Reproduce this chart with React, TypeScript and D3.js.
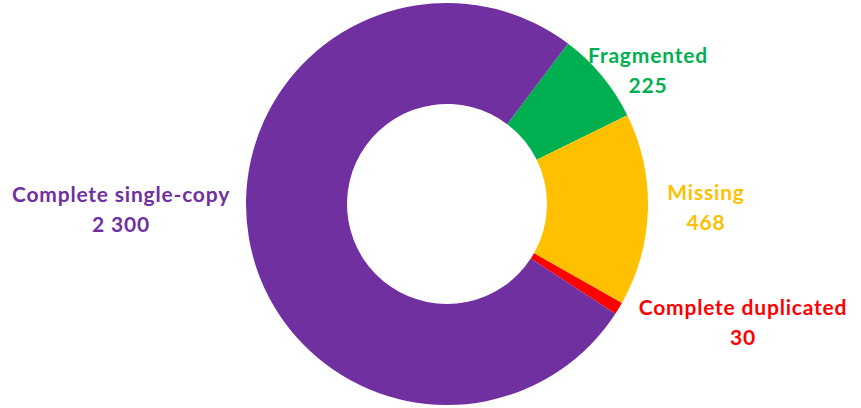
import React from "react";
import * as d3 from "d3";

const categories = ["Fragmented", "Missing", "Complete duplicated", "Complete single-copy"];
const values = [225, 468, 30, 2300];
const valueLabels = ["225", "468", "30", "2 300"];
const colors = ["#00B050", "#FFC000", "#FF0000", "#7030A0"];

const W = 861, H = 408;
const cx = 447, cy = 204, outerR = 201, innerR = 100;
const startDeg = 37;

const labelPos = [
  { x: 648, y: 63 },
  { x: 706, y: 200 },
  { x: 743, y: 315 },
  { x: 121, y: 202 },
];

export default function App() {
  const pie = d3
    .pie<number>()
    .sort(null)
    .value((d) => d)
    .startAngle((startDeg * Math.PI) / 180)
    .endAngle((startDeg * Math.PI) / 180 + 2 * Math.PI);
  const arcs = pie(values);
  const arc = d3.arc<d3.PieArcDatum<number>>().innerRadius(innerR).outerRadius(outerR);
  return (
    <svg width={W} height={H} style={{ position: "absolute", left: 0, top: 0 }}>
      <rect width={W} height={H} fill="#fff" />
      <g transform={`translate(${cx},${cy})`}>
        {arcs.map((a, i) => (
          <path key={i} d={arc(a) || ""} fill={colors[i]} />
        ))}
      </g>
      {categories.map((c, i) => (
        <text
          key={c}
          x={labelPos[i].x}
          y={labelPos[i].y}
          fill={colors[i]}
          textAnchor="middle"
          fontFamily="Lato, 'Open Sans', sans-serif"
          fontWeight="bold"
          fontSize={21}
          letterSpacing={0.8}
        >
          <tspan x={labelPos[i].x}>{c}</tspan>
          <tspan x={labelPos[i].x} dy={30}>{valueLabels[i]}</tspan>
        </text>
      ))}
    </svg>
  );
}
